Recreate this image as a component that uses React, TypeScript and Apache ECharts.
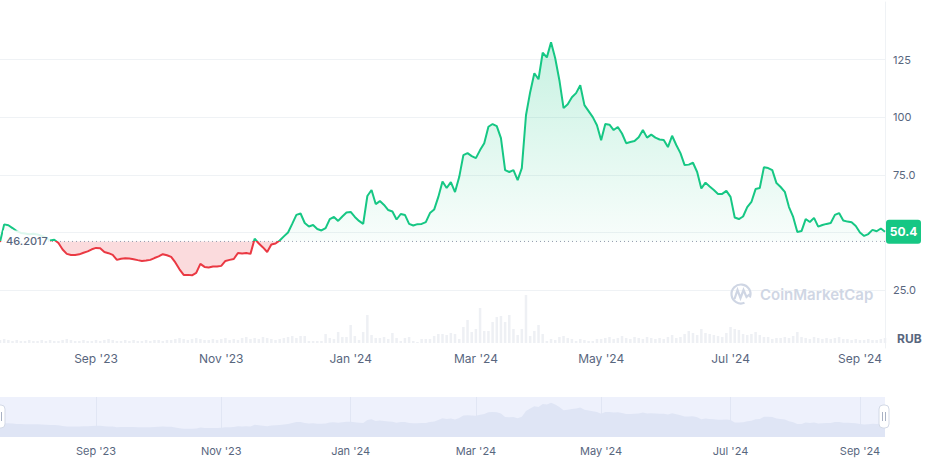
import { useEffect, useRef } from 'react';
import * as echarts from 'echarts';

const START_DATE = '2023-07-18';
const STEP_DAYS = 2;
const BASELINE = 46.2017;
const CURRENCY = 'RUB';
const BRAND = 'CoinMarketCap';

const prices: number[] = [
  45.9, 53.6, 53.2, 52.0, 50.7, 49.9, 49.6, 49.3, 49.5, 49.2,
  48.6, 47.8, 46.6, 46.9, 45.5, 42.7, 40.8, 40.35, 40.3, 40.6,
  41.3, 41.9, 42.8, 43.4, 43.2, 41.6, 41.1, 40.35, 38.2, 38.7,
  38.9, 38.8, 38.5, 38.1, 37.75, 37.9, 38.2, 39.0, 39.7, 40.65,
  40.2, 39.5, 37.1, 34.1, 31.7, 31.7, 31.5, 32.55, 36.45, 35.15,
  34.9, 35.3, 35.3, 35.6, 37.75, 38.2, 38.6, 41.2, 41.0, 41.2,
  40.8, 47.4, 45.3, 43.6, 41.6, 44.9, 45.3, 46.6, 48.4, 50.1,
  53.8, 57.7, 58.3, 54.2, 52.7, 53.3, 51.6, 50.95, 52.0, 55.9,
  56.8, 55.1, 57.0, 58.7, 59.0, 56.8, 55.1, 53.8, 65.9, 68.5,
  62.4, 63.7, 62.0, 59.8, 59.2, 55.7, 58.1, 57.7, 53.8, 53.1,
  53.7, 53.8, 54.6, 58.5, 60.0, 65.5, 72.2, 69.35, 71.9, 67.6,
  74.1, 83.6, 84.5, 83.2, 82.3, 85.8, 88.8, 95.9, 97.1, 96.2,
  91.0, 77.1, 76.3, 77.1, 72.8, 78.0, 100.9, 110.9, 119.1, 116.5,
  128.0, 126.0, 132.5, 125.6, 116.1, 104.0, 105.7, 108.7, 110.5, 113.9,
  105.3, 102.7, 100.1, 96.6, 90.1, 97.1, 96.8, 94.5, 95.8, 93.0,
  88.8, 89.3, 89.7, 91.4, 94.5, 91.2, 92.5, 91.2, 90.4, 90.2,
  87.1, 92.0, 88.0, 84.5, 79.3, 79.5, 80.3, 76.3, 69.2, 71.7,
  70.0, 68.5, 66.8, 66.8, 68.1, 65.5, 56.6, 55.9, 57.0, 61.1,
  63.3, 68.9, 69.35, 78.4, 78.0, 77.1, 71.5, 69.8, 67.7, 61.1,
  56.8, 50.3, 50.7, 55.9, 54.6, 56.4, 52.6, 53.3, 53.8, 54.2,
  57.7, 58.5, 55.3, 54.8, 54.5, 52.9, 50.1, 48.6, 49.4, 51.2,
  50.6, 51.8, 50.4,
];

// relative trading volume
const volumes: number[] = [
  3, 4, 3, 2, 3, 2, 2, 3, 2, 2, 3, 2,
  3, 2, 2, 3, 4, 3, 2, 2, 3, 2, 2, 3, 2, 3, 4, 3, 2, 2, 3, 2, 3, 2, 2, 3, 2, 3, 3, 2, 3,
  3, 4, 5, 4, 3, 4, 5, 4, 3, 3, 4, 3, 4, 5, 3, 4, 3, 5, 6, 4, 5, 4, 6, 5, 4, 3, 4, 5, 6, 7, 5,
  7, 7, 2, 2, 2, 2, 9, 5, 4, 11,
  6, 6, 18, 7, 3, 11, 28, 8, 5, 5,
  6, 4, 10, 5, 2, 5, 6, 2, 1, 4,
  4, 4, 7, 9, 9, 8, 10, 9, 4, 16,
  23, 11, 14, 35, 12, 12, 21, 26, 27, 21,
  28, 14, 8, 14, 48, 7, 12, 18, 9, 2,
  4, 3, 6, 7, 5, 4, 2, 4, 3, 2,
  2, 4,
  4, 5, 6, 4, 5, 7, 5, 4, 6, 5,
  4, 6, 5, 4, 5, 4, 6, 8, 5, 6,
  9, 12, 10, 8, 14, 10, 9, 8, 7, 6,
  10, 16, 14, 13, 9, 8, 9, 11, 8, 6,
  6, 4, 5, 5, 6, 5, 7, 11, 6, 5,
  4, 6, 5, 4, 5, 4, 5, 6, 4, 4,
  3, 4, 3, 3, 4, 3, 3, 4, 5,
];

const MONTHS = ['Jan', 'Feb', 'Mar', 'Apr', 'May', 'Jun', 'Jul', 'Aug', 'Sep', 'Oct', 'Nov', 'Dec'];
const LABEL_MONTHS = [0, 2, 4, 6, 8, 10];

const GREEN = '#16c784';
const RED = '#ea3943';
const TEXT = '#58667e';
const GRID_LINE = '#eff2f5';
const WATERMARK = '#cfd6e4';
const W = 936;
const H = 464;

function makeDates(n: number): string[] {
  const t0 = Date.parse(START_DATE + 'T00:00:00Z');
  return Array.from({ length: n }, (_, i) =>
    new Date(t0 + i * STEP_DAYS * 86400000).toISOString().slice(0, 10)
  );
}

export default function App() {
  const ref = useRef<HTMLDivElement>(null);

  useEffect(() => {
    if (!ref.current) return;
    const chart = echarts.init(ref.current, null, { renderer: 'svg' });
    const dates = makeDates(prices.length);
    const isLabel = (idx: number) => {
      const d = new Date(dates[idx] + 'T00:00:00Z');
      return d.getUTCDate() <= 2 && LABEL_MONTHS.includes(d.getUTCMonth());
    };
    const fmtDate = (s: string) => {
      const d = new Date(s + 'T00:00:00Z');
      return MONTHS[d.getUTCMonth()] + " '" + String(d.getUTCFullYear()).slice(2);
    };
    const above = prices.map((v) => Math.max(v, BASELINE));
    const below = prices.map((v) => Math.min(v, BASELINE));
    const baseLine = prices.map(() => BASELINE);

    chart.setOption({
      animation: false,
      textStyle: { fontFamily: 'Inter, "Noto Sans", sans-serif' },
      grid: [
        { left: 0, right: 51, top: 2, bottom: 116 },
        { left: 0, right: 51, top: 293, bottom: 121 },
        { left: 0, right: 51, top: 397, bottom: 27, show: true, backgroundColor: '#eef1fc', borderWidth: 0 },
      ],
      xAxis: [
        {
          type: 'category', data: dates, boundaryGap: false, gridIndex: 0,
          axisLine: { show: false }, axisTick: { show: false }, axisLabel: { show: false }, splitLine: { show: false },
        },
        {
          type: 'category', data: dates, boundaryGap: false, gridIndex: 1,
          axisLine: { show: false }, axisTick: { show: false }, splitLine: { show: false },
          axisLabel: { interval: (i: number) => isLabel(i), formatter: fmtDate, color: TEXT, fontSize: 12, margin: 9 },
        },
        {
          type: 'category', data: dates, boundaryGap: false, gridIndex: 2,
          axisLine: { show: false }, axisTick: { show: false },
          splitLine: { show: true, interval: (i: number) => isLabel(i), lineStyle: { color: '#e1e6f4', width: 1 } },
          axisLabel: { interval: (i: number) => isLabel(i), formatter: fmtDate, color: TEXT, fontSize: 11, margin: 8 },
        },
      ],
      yAxis: [
        {
          gridIndex: 0,
          type: 'value',
          position: 'right',
          min: 0,
          max: 150,
          interval: 25,
          axisLine: { show: true, lineStyle: { color: GRID_LINE } },
          axisTick: { show: false },
          splitLine: {
            lineStyle: {
              color: ['rgba(0,0,0,0)', GRID_LINE, GRID_LINE, GRID_LINE, GRID_LINE, GRID_LINE, 'rgba(0,0,0,0)'],
            },
          },
          axisLabel: {
            color: TEXT,
            fontSize: 11,
            margin: 8,
            formatter: (v: number) =>
              v === 0 || v === 50 || v === 150 ? '' : v >= 100 ? String(v) : v.toFixed(1),
          },
        },
        { gridIndex: 1, type: 'value', min: 0, max: 50, show: false },
        { gridIndex: 2, type: 'value', min: 0, max: 155, show: false },
      ],
      series: [
        {
          type: 'line',
          xAxisIndex: 0,
          yAxisIndex: 0,
          data: prices,
          symbol: 'none',
          lineStyle: { width: 2, color: GREEN },
          z: 5,
        },
        {
          type: 'line',
          xAxisIndex: 0,
          yAxisIndex: 0,
          data: above,
          symbol: 'none',
          lineStyle: { width: 0, opacity: 0 },
          areaStyle: {
            origin: BASELINE,
            color: new echarts.graphic.LinearGradient(0, 0, 0, 1, [
              { offset: 0, color: 'rgba(22,199,132,0.34)' },
              { offset: 1, color: 'rgba(22,199,132,0.04)' },
            ]),
          },
          z: 2,
        },
        {
          type: 'line',
          xAxisIndex: 0,
          yAxisIndex: 0,
          data: below,
          symbol: 'none',
          lineStyle: { width: 0, opacity: 0 },
          areaStyle: { origin: BASELINE, color: 'rgba(234,57,67,0.26)' },
          z: 2,
        },
        {
          type: 'line',
          xAxisIndex: 0,
          yAxisIndex: 0,
          data: baseLine,
          symbol: 'none',
          lineStyle: { color: '#8f99ab', type: [1, 3], width: 1 },
          z: 3,
        },
        {
          type: 'bar',
          xAxisIndex: 1,
          yAxisIndex: 1,
          data: volumes,
          barWidth: '60%',
          itemStyle: { color: '#eef0f4' },
          z: 1,
        },
        {
          type: 'line',
          xAxisIndex: 2,
          yAxisIndex: 2,
          data: prices,
          symbol: 'none',
          lineStyle: { width: 0, opacity: 0 },
          areaStyle: { color: '#dfe5f5', opacity: 1 },
        },
      ],
    });

    const last = prices.length - 1;
    let lastY = 232;
    let baseY = 242;
    try {
      const p1 = chart.convertToPixel({ seriesIndex: 0 }, [last, prices[last]]) as number[];
      const p2 = chart.convertToPixel({ seriesIndex: 0 }, [0, BASELINE]) as number[];
      if (p1 && isFinite(p1[1])) lastY = p1[1];
      if (p2 && isFinite(p2[1])) baseY = p2[1];
    } catch (e) {
      // keep defaults
    }
    const stop = baseY / H;

    chart.setOption({
      series: [
        {
          lineStyle: {
            color: new echarts.graphic.LinearGradient(0, 0, 0, H, [
              { offset: 0, color: GREEN },
              { offset: stop, color: GREEN },
              { offset: stop, color: RED },
              { offset: 1, color: RED },
            ], true),
          },
        },
      ],
      graphic: [
        { type: 'rect', z: 50, shape: { x: 3, y: baseY - 11, width: 47, height: 22 }, style: { fill: 'rgba(255,255,255,0.85)' } },
        {
          type: 'text', z: 51, x: 6, y: baseY,
          style: { text: String(BASELINE), fill: TEXT, fontSize: 11, fontWeight: 500, fontFamily: 'Inter', verticalAlign: 'middle', align: 'left' },
        },
        { type: 'rect', z: 50, shape: { x: W - 50, y: lastY - 12, width: 35, height: 24, r: 3 }, style: { fill: GREEN } },
        {
          type: 'text', z: 51, x: W - 32.5, y: lastY,
          style: { text: prices[last].toFixed(1), fill: '#ffffff', fontSize: 12, fontWeight: 700, fontFamily: 'Inter', align: 'center', verticalAlign: 'middle' },
        },
        {
          type: 'text', z: 50, x: 897, y: 338,
          style: { text: CURRENCY, fill: TEXT, fontSize: 12, fontWeight: 700, fontFamily: 'Inter', verticalAlign: 'middle' },
        },
        {
          type: 'arc', z: 0, shape: { cx: 741, cy: 294, r: 9.5, startAngle: Math.PI * 0.38, endAngle: Math.PI * 2.12 },
          style: { stroke: WATERMARK, lineWidth: 2.2, fill: 'none' },
        },
        {
          type: 'polyline', z: 0,
          shape: { points: [[734.5, 299], [737.5, 290], [740.5, 298], [743.5, 290], [746.5, 297], [750, 294]] },
          style: { stroke: WATERMARK, lineWidth: 2.2, fill: 'none' },
        },
        {
          type: 'text', z: 0, x: 760, y: 294,
          style: { text: BRAND, fill: WATERMARK, fontSize: 15, fontWeight: 600, fontFamily: 'Inter', verticalAlign: 'middle' },
        },
        { type: 'rect', z: 50, shape: { x: -5, y: 405, width: 10, height: 23, r: 4 }, style: { fill: '#ffffff', stroke: '#d3d9e6', lineWidth: 1 } },
        { type: 'line', z: 51, shape: { x1: 1.5, y1: 412, x2: 1.5, y2: 421 }, style: { stroke: '#a8b1c4', lineWidth: 1 } },
        { type: 'rect', z: 50, shape: { x: 879, y: 405, width: 10, height: 23, r: 4 }, style: { fill: '#ffffff', stroke: '#d3d9e6', lineWidth: 1 } },
        { type: 'line', z: 51, shape: { x1: 882.5, y1: 412, x2: 882.5, y2: 421 }, style: { stroke: '#a8b1c4', lineWidth: 1 } },
        { type: 'line', z: 51, shape: { x1: 885.5, y1: 412, x2: 885.5, y2: 421 }, style: { stroke: '#a8b1c4', lineWidth: 1 } },
      ],
    });

    return () => chart.dispose();
  }, []);

  return <div ref={ref} style={{ position: 'absolute', left: 0, top: 0, width: W, height: H }} />;
}
